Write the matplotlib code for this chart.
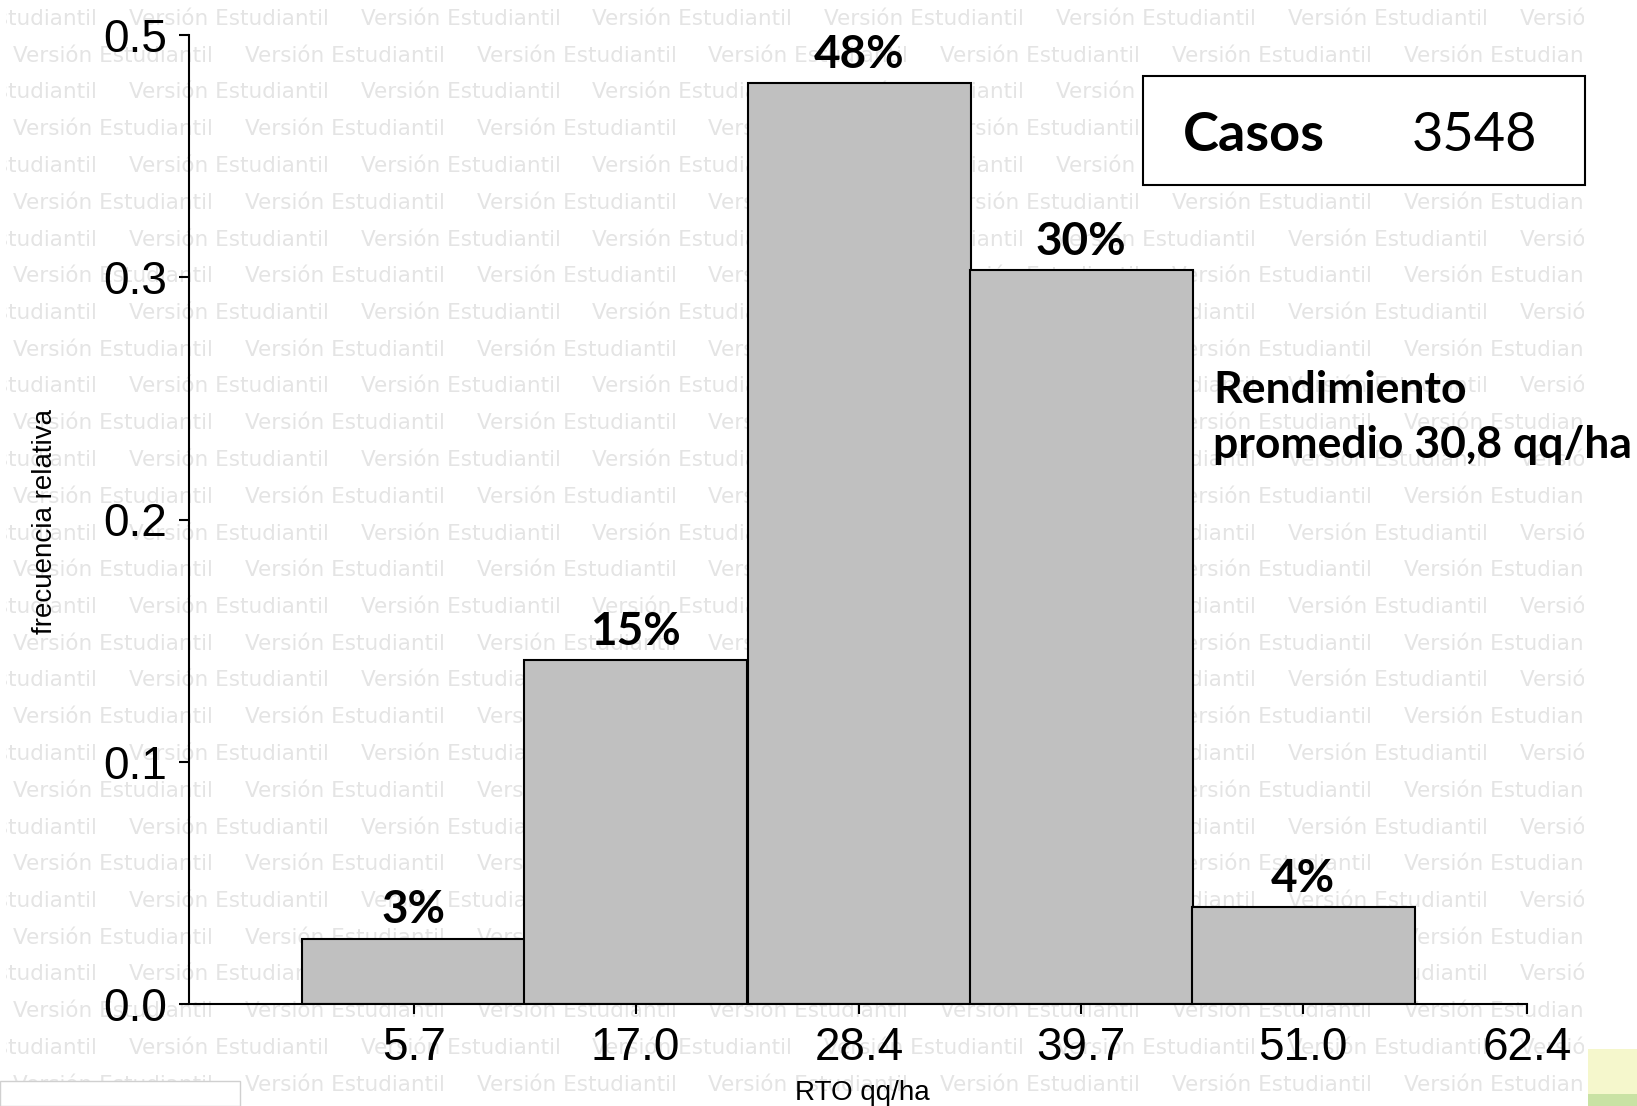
import matplotlib
matplotlib.use("Agg")
import matplotlib.pyplot as plt
from matplotlib.patches import Rectangle

# histogram data (class marks in qq/ha, relative frequency as drawn)
class_marks = [5.7, 17.0, 28.4, 39.7, 51.0]
rel_freq = [0.027, 0.142, 0.380, 0.303, 0.040]
pct_labels = ["3%", "15%", "48%", "30%", "4%"]
x_ticks = [5.7, 17.0, 28.4, 39.7, 51.0, 62.4]
x_ticklabels = ["5.7", "17.0", "28.4", "39.7", "51.0", "62.4"]
y_ticks = [0.0, 0.1, 0.2, 0.3, 0.4]
y_ticklabels = ["0.0", "0.1", "0.2", "0.3", "0.5"]
casos = 3548
rendimiento = "30,8"

W, H = 1637, 1106
BAR_W = 11.35


def main():
    fig = plt.figure(figsize=(W / 100, H / 100), dpi=100)
    fig.patch.set_facecolor("white")

    # student-version watermark in the background
    bg = fig.add_axes([6 / W, 0, (1584 - 6) / W, 1], zorder=-1)
    bg.set_xlim(6, 1584)
    bg.set_ylim(H, 0)
    bg.axis("off")
    for i in range(30):
        y = 19 + 36.75 * i
        x0 = -103 if i % 2 == 0 else 13
        for k in range(8):
            bg.text(x0 + 231.8 * k, y, "Versión Estudiantil", ha="left", va="center",
                    fontsize=15.5, color="#e4e4e4", family="DejaVu Sans", clip_on=True)

    ax = fig.add_axes([189 / W, 102 / H, (1527 - 189) / W, (1004 - 35) / H], zorder=1)
    ax.patch.set_alpha(0)
    ax.bar(class_marks, rel_freq, width=BAR_W, color="#c0c0c0",
           edgecolor="black", linewidth=1.5)
    for xm, v, lab in zip(class_marks, rel_freq, pct_labels):
        ax.annotate(lab, (xm, v), xytext=(0, 11), textcoords="offset points",
                    ha="center", va="baseline", fontsize=33, fontweight="bold",
                    family="Lato")

    ax.set_xlim(-5.75, 62.4)
    ax.set_ylim(0, 0.4)
    ax.set_xticks(x_ticks)
    ax.set_xticklabels(x_ticklabels, family="Liberation Sans", fontsize=33)
    ax.set_yticks(y_ticks)
    ax.set_yticklabels(y_ticklabels, family="Liberation Sans", fontsize=33)
    ax.tick_params(length=7, width=1.5, pad=8.5)
    for s in ["top", "right"]:
        ax.spines[s].set_visible(False)
    for s in ["left", "bottom"]:
        ax.spines[s].set_linewidth(1.5)

    fig.text(45 / W, (H - 522) / H, "frecuencia relativa", rotation=90, ha="center",
             va="center", fontsize=20, family="Liberation Sans")
    fig.text(862 / W, (H - 1100) / H, "RTO qq/ha", ha="center", va="baseline",
             fontsize=20, family="Liberation Sans")

    # "Casos" box
    fig.add_artist(Rectangle((1143 / W, (H - 185) / H), 442 / W, 109 / H,
                             transform=fig.transFigure, facecolor="white",
                             edgecolor="black", linewidth=1.5, zorder=2))
    fig.text(1254 / W, (H - 151) / H, "Casos", ha="center", va="baseline",
             fontsize=39, fontweight="bold", family="Lato", zorder=3)
    fig.text(1474 / W, (H - 151) / H, str(casos), ha="center", va="baseline",
             fontsize=39, family="Lato", zorder=3)

    fig.text(1213 / W, (H - 403) / H, "Rendimiento", ha="left", va="baseline",
             fontsize=32, fontweight="bold", family="Lato", zorder=3)
    fig.text(1213 / W, (H - 458) / H, "promedio " + rendimiento + " qq/ha", ha="left",
             va="baseline", fontsize=32, fontweight="bold", family="Lato", zorder=3)

    # leftover boxes at the bottom corners of the slide
    fig.add_artist(Rectangle((0, 0), 240 / W, 25 / H, transform=fig.transFigure,
                             facecolor="white", edgecolor="#d0d0d0", linewidth=1, zorder=2))
    fig.add_artist(Rectangle((1588 / W, 0), 49 / W, 57 / H, transform=fig.transFigure,
                             facecolor="#f5f7cc", edgecolor="none", zorder=2))
    fig.add_artist(Rectangle((1588 / W, 0), 49 / W, 12 / H, transform=fig.transFigure,
                             facecolor="#c9e2a4", edgecolor="none", zorder=2))

    fig.savefig("out.png", dpi=100)


if __name__ == '__main__':
    main()
